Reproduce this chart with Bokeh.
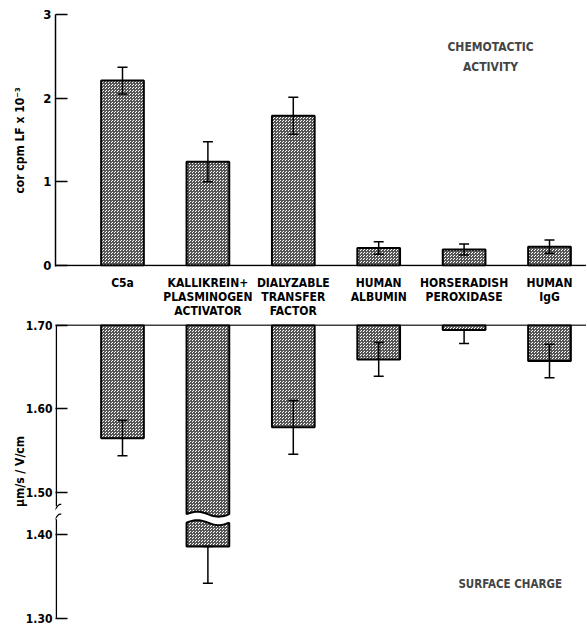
import numpy as np
from bokeh.plotting import figure
from bokeh.layouts import column
from bokeh.core.properties import value
from bokeh.models import (ColumnDataSource, Whisker, TeeHead, Label, Span,
                          FixedTicker, Range1d)
from bokeh.embed import file_html
from bokeh.resources import INLINE

# ---------------- data ----------------
categories = ["C5a", "KALLIKREIN+\nPLASMINOGEN\nACTIVATOR",
              "DIALYZABLE\nTRANSFER\nFACTOR", "HUMAN\nALBUMIN",
              "HORSERADISH\nPEROXIDASE", "HUMAN\nIgG"]
chemo = [2.21, 1.24, 1.79, 0.21, 0.19, 0.225]          # cor cpm LF x 10^-3
chemo_err = [0.16, 0.24, 0.22, 0.075, 0.066, 0.08]
surface = [1.565, 1.386, 1.578, 1.659, 1.694, 1.657]   # um/s / V/cm
surface_err = [0.021, 0.044, 0.032, 0.020, 0.016, 0.020]
chemo_ticks = [0, 1, 2, 3]
surface_ticks = [1.70, 1.60, 1.50, 1.40, 1.30]
surface_base = 1.70

# ---------------- styling constants ----------------
FONT = "DejaVu Sans Condensed"
BREAK_SHIFT = 0.05            # axis break: values below 1.45 are moved up
BREAK_AXIS = (1.4685, 1.484)  # gap in axis line (plot units)
BREAK_BAR = (1.4643, 1.4744)  # gap in broken bar (plot units)
W = 0.5
PX = 1 / 85.4                 # one pixel in x data units
WIDTH = 586
LEFT = 55


def brk(v):
    return round(v if v >= 1.45 else v + BREAK_SHIFT, 4)


xs = list(range(1, len(categories) + 1))
X0 = 0.2155
X1 = X0 + (WIDTH - LEFT) * PX
xr = Range1d(X0, X1)

bar_kw = dict(fill_color="white", line_color="black", line_width=2,
              hatch_pattern="criss_cross", hatch_color="#555555",
              hatch_scale=3, hatch_weight=1)


def base_fig(height, y_range, top, bottom):
    f = figure(width=WIDTH, height=height, x_range=xr, y_range=y_range,
               output_backend="svg", toolbar_location=None, x_axis_location=None,
               min_border_left=LEFT, min_border_right=0, min_border_top=top,
               min_border_bottom=bottom)
    f.outline_line_color = None
    f.xgrid.visible = False
    f.ygrid.visible = False
    return f


def style_axis(ax, size):
    ax.axis_line_width = 1.5
    ax.major_tick_line_width = 1.5
    ax.minor_tick_line_color = None
    ax.major_tick_in = 12
    ax.major_tick_out = 0
    ax.major_label_text_font = FONT
    ax.major_label_text_font_style = "bold"
    ax.major_label_text_color = "black"
    ax.major_label_text_font_size = size
    ax.axis_label_text_font = FONT
    ax.axis_label_text_font_style = "bold"
    ax.axis_label_text_font_size = "12px"
    ax.axis_label_text_color = "black"


def whisker(src):
    return Whisker(base="x", lower="lo", upper="hi", source=src, level="overlay",
                   line_width=1.5, line_color="black",
                   upper_head=TeeHead(size=10, line_width=1.5),
                   lower_head=TeeHead(size=10, line_width=1.5))


# ---------------- top panel: chemotactic activity ----------------
p1 = base_fig(274, Range1d(-0.012, chemo_ticks[-1]), 14, 8)

src1 = ColumnDataSource(dict(
    x=xs, v=chemo,
    lo=[m - e for m, e in zip(chemo, chemo_err)],
    hi=[m + e for m, e in zip(chemo, chemo_err)]))
p1.vbar(x="x", top="v", bottom=0, width=W, source=src1, **bar_kw)
p1.add_layout(whisker(src1))
p1.add_layout(Span(location=0, dimension="width", line_color="black", line_width=1.5))

yax = p1.yaxis[0]
style_axis(yax, "13px")
yax.ticker = FixedTicker(ticks=chemo_ticks)
yax.major_label_standoff = 4
yax.axis_label = "cor cpm LF x 10⁻³"
yax.axis_label_standoff = 13

p1.add_layout(Label(x=5.31, y=2.49, text="CHEMOTACTIC\nACTIVITY",
                    text_align="center", text_baseline="middle",
                    text_font=FONT, text_font_style="bold",
                    text_font_size="12px", text_line_height=1.45))

# ---------------- category labels ----------------
pm = base_fig(44, Range1d(0, 44), 0, 0)
pm.yaxis.visible = False
pm.text(x=xs, y=[42.8] * len(xs), text=categories,
        text_align="center", text_baseline="top",
        text_font=value(FONT), text_font_style="bold",
        text_font_size="12px", text_line_height=1.02, text_color="black")

# ---------------- bottom panel: surface charge ----------------
t_low = brk(surface_ticks[-1])
p2 = base_fig(308, Range1d(t_low, surface_base + 0.0006), 6, 8)

t_surf = [brk(v) for v in surface]
whole = [i for i, t in enumerate(t_surf) if t > BREAK_BAR[1]]
broken = [i for i, t in enumerate(t_surf) if t <= BREAK_BAR[1]]

src2 = ColumnDataSource(dict(x=[xs[i] for i in whole], t=[t_surf[i] for i in whole]))
p2.vbar(x="x", top=surface_base, bottom="t", width=W, source=src2, **bar_kw)

# broken bars (value lies beyond the axis break)
u = np.linspace(0, 1, 25)
amp = 0.003
pxs, pys = [], []
for i in broken:
    l, r = xs[i] - W / 2, xs[i] + W / 2
    wx = l + u * (r - l)
    wave = amp * np.sin(2 * np.pi * u)
    pxs.append([l, r] + list(wx[::-1]))
    pys.append([surface_base, surface_base] + list(BREAK_BAR[1] + wave[::-1]))
    pxs.append(list(wx) + [r, l])
    pys.append(list(BREAK_BAR[0] + wave) + [t_surf[i], t_surf[i]])
if pxs:
    p2.patches(pxs, pys, **bar_kw)

# error bars: hidden part (inside break or above base) is not drawn
hi2 = []
for e, t in zip(surface_err, t_surf):
    up = t + e
    if up > surface_base or (t <= BREAK_BAR[1] and up > BREAK_BAR[0]):
        up = t
    hi2.append(up)
src2e = ColumnDataSource(dict(x=xs, lo=[t - e for t, e in zip(t_surf, surface_err)], hi=hi2))
p2.add_layout(whisker(src2e))

# base line and broken axis line
p2.add_layout(Span(location=surface_base, dimension="width",
                   line_color="black", line_width=1.5))
ax_x = X0 + 0.8 * PX
p2.segment(x0=[ax_x, ax_x], y0=[surface_base, BREAK_AXIS[0]],
           x1=[ax_x, ax_x], y1=[BREAK_AXIS[1], t_low],
           line_color="black", line_width=1.5)
sq = np.linspace(-1, 1, 15)
for yc in (BREAK_AXIS[1] - 0.002, BREAK_AXIS[0] + 0.002):
    p2.line(ax_x + 5 * PX * sq, yc + 0.004 * sq + 0.0015 * np.sin(np.pi * sq),
            line_color="black", line_width=1.2)

yax2 = p2.yaxis[0]
style_axis(yax2, "12px")
yax2.axis_line_color = None
yax2.ticker = FixedTicker(ticks=[brk(v) for v in surface_ticks])
yax2.major_label_overrides = {brk(v): f"{v:.2f}" for v in surface_ticks}
yax2.major_label_standoff = 3
yax2.axis_label = "μm/s / V/cm"
yax2.axis_label_standoff = -4

p2.add_layout(Label(x=5.54, y=1.391, text="SURFACE CHARGE",
                    text_align="center", text_baseline="middle",
                    text_font=FONT, text_font_style="bold",
                    text_font_size="11.5px"))

layout = column(p1, pm, p2, spacing=0)
open("out.html", "w").write(file_html(layout, INLINE))
